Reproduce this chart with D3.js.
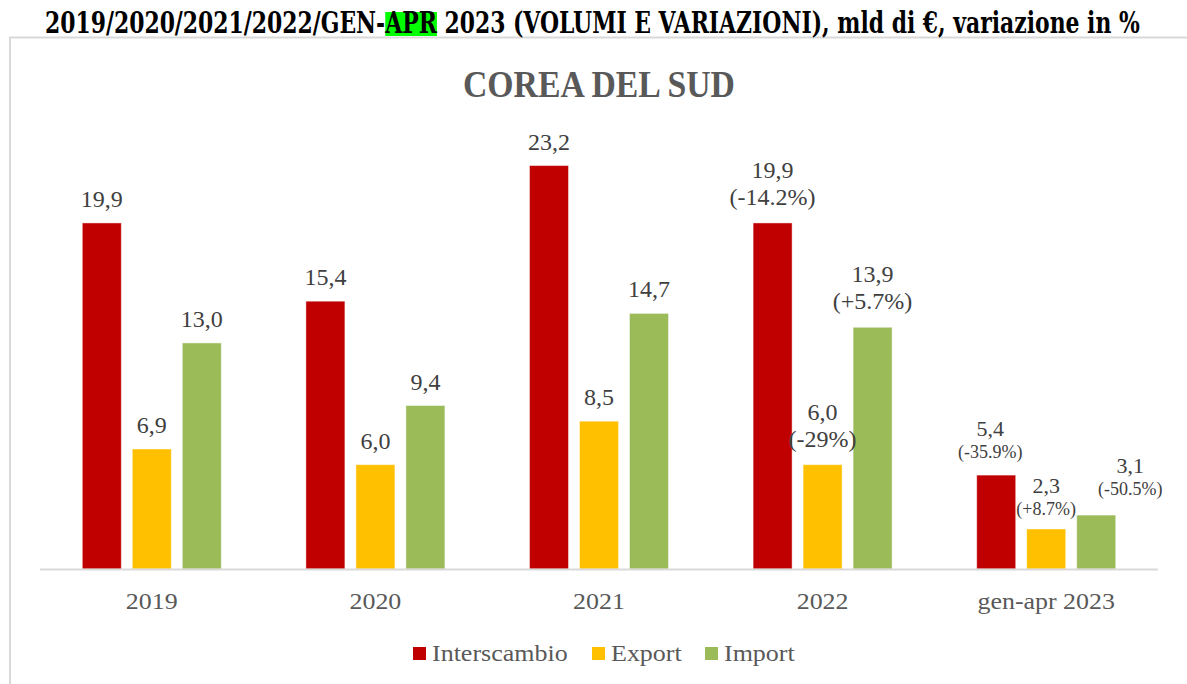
<!DOCTYPE html>
<html>
<head>
<meta charset="utf-8">
<script src="https://cdn.jsdelivr.net/npm/d3@7"></script>
<style>
  body { margin: 0; background: #fff; }
  svg { display: block; }
</style>
</head>
<body>
<div class="canvas"></div>
<script>
// data
const categories = ['2019', '2020', '2021', '2022', 'gen-apr 2023'];
const seriesNames = ['Interscambio', 'Export', 'Import'];
const interscambio = [19.9, 15.4, 23.2, 19.9, 5.4];
const exportVals = [6.9, 6.0, 8.5, 6.0, 2.3];
const importVals = [13.0, 9.4, 14.7, 13.9, 3.1];
const interscambioVar = [null, null, null, '(-14.2%)', '(-35.9%)'];
const exportVar = [null, null, null, '(-29%)', '(+8.7%)'];
const importVar = [null, null, null, '(+5.7%)', '(-50.5%)'];

const colors = ['#C00000', '#FFC000', '#9BBB59'];
const dims = { width: 1187, height: 684 };
const grey = '#595959';
const font = '"Liberation Serif", "Times New Roman", serif';

const svg = d3.select('.canvas')
    .append('svg')
    .attr('width', dims.width)
    .attr('height', dims.height);

// widen text a bit (reference font runs wider than Times)
const stretch = (sel, k) => sel.each(function () {
    const w = this.getComputedTextLength();
    d3.select(this).attr('textLength', w * k).attr('lengthAdjust', 'spacingAndGlyphs');
});

// frame
svg.append('path')
    .attr('d', 'M10,684 V37.5 H1187')
    .attr('fill', 'none')
    .attr('stroke', '#d9d9d9')
    .attr('stroke-width', 2);

// top title with highlighted APR
const tg = svg.append('g');
const title = tg.append('text')
    .attr('y', 33)
    .attr('font-family', '"DejaVu Serif Condensed", "DejaVu Serif", serif')
    .attr('font-weight', 'bold')
    .attr('font-size', 29)
    .attr('fill', '#000');
const p1 = '2019/2020/2021/2022/GEN-';
title.append('tspan').text(p1);
title.append('tspan').text('APR');
title.append('tspan').text(' 2023 (VOLUMI E VARIAZIONI), mld di €, variazione in %');
const tw = title.node().getComputedTextLength();
const sx = 1095 / tw;
const aprX = title.node().getSubStringLength(0, p1.length);
const aprW = title.node().getSubStringLength(p1.length, 3);
tg.insert('rect', 'text')
    .attr('x', aprX).attr('y', 12)
    .attr('width', aprW).attr('height', 24)
    .attr('fill', '#00FF00');
tg.attr('transform', `translate(45,0) scale(${sx},1)`);

// chart title
const ct = svg.append('g');
const ctText = ct.append('text')
    .attr('y', 97)
    .attr('font-family', font)
    .attr('font-weight', 'bold')
    .attr('font-size', 37)
    .attr('fill', grey)
    .text('COREA DEL SUD');
const cw = ctText.node().getComputedTextLength();
ct.attr('transform', `translate(463,0) scale(${272 / cw},1)`);

// scales
const x0 = d3.scaleBand()
    .domain(categories)
    .range([40, 1158]);

const x1 = d3.scaleBand()
    .domain(seriesNames)
    .range([0, 139])
    .paddingInner(0.22);

const y = d3.scaleLinear()
    .domain([0, 25])
    .range([569, 569 - 25 * 17.39]);

const rows = categories.map((c, i) => ({
    cat: c,
    vals: [
        { s: 0, v: interscambio[i], pct: interscambioVar[i] },
        { s: 1, v: exportVals[i], pct: exportVar[i] },
        { s: 2, v: importVals[i], pct: importVar[i] }
    ]
}));

const groups = svg.selectAll('g.cat')
    .data(rows)
    .enter()
    .append('g')
    .attr('class', 'cat')
    .attr('transform', d => `translate(${x0(d.cat) + x0.bandwidth() / 2 - 69.5},0)`);

groups.selectAll('rect')
    .data(d => d.vals)
    .enter()
    .append('rect')
    .attr('x', d => x1(seriesNames[d.s]))
    .attr('y', d => y(d.v))
    .attr('width', x1.bandwidth())
    .attr('height', d => y(0) - y(d.v))
    .attr('fill', d => colors[d.s])
    .attr('stroke', 'rgba(255,255,255,0.45)')
    .attr('stroke-width', 1);

// value labels
const fmt = v => v.toFixed(1).replace('.', ',');
const small = d => d.cat === 'gen-apr 2023';
// little nudges for the crowded last group
const nudge = { 0: [-6, 0], 1: [0, 3], 2: [34, -3] };

groups.each(function (row) {
    const g = d3.select(this);
    row.vals.forEach(d => {
        const cx = x1(seriesNames[d.s]) + x1.bandwidth() / 2;
        const top = y(d.v);
        let dx = 0, dy = 0;
        if (small(row)) { dx = nudge[d.s][0]; dy = nudge[d.s][1]; }
        const t = g.append('text')
            .attr('text-anchor', 'middle')
            .attr('font-family', font)
            .attr('fill', '#404040');
        if (d.pct) {
            const ls = small(row) ? 22 : 27;
            t.append('tspan')
                .attr('x', cx + dx)
                .attr('y', top - (small(row) ? 17 : 18) - ls + dy)
                .attr('font-size', small(row) ? 22 : 24)
                .text(fmt(d.v));
            t.append('tspan')
                .attr('x', cx + dx)
                .attr('y', top - (small(row) ? 17 : 18) + dy)
                .attr('font-size', small(row) ? 18 : 24)
                .text(d.pct);
        } else {
            t.attr('x', cx).attr('y', top - 16)
                .attr('font-size', 24)
                .text(fmt(d.v));
        }
    });
});

// x axis
svg.append('line')
    .attr('x1', 40).attr('x2', 1158)
    .attr('y1', 569.5).attr('y2', 569.5)
    .attr('stroke', '#d9d9d9')
    .attr('stroke-width', 2);

svg.selectAll('text.cat')
    .data(categories)
    .enter()
    .append('text')
    .attr('class', 'cat')
    .attr('x', d => x0(d) + x0.bandwidth() / 2)
    .attr('y', 609)
    .attr('text-anchor', 'middle')
    .attr('font-family', font)
    .attr('font-size', 24)
    .attr('fill', grey)
    .text(d => d)
    .call(stretch, 1.08);

// legend
const legX = [413, 592, 705];
const leg = svg.selectAll('g.leg')
    .data(seriesNames)
    .enter()
    .append('g')
    .attr('class', 'leg')
    .attr('transform', (d, i) => `translate(${legX[i]},647)`);

leg.append('rect')
    .attr('width', 13).attr('height', 13)
    .attr('fill', (d, i) => colors[i]);

leg.append('text')
    .attr('x', 19)
    .attr('y', 14)
    .attr('font-family', font)
    .attr('font-size', 23)
    .attr('fill', grey)
    .text(d => d)
    .call(stretch, 1.13);
</script>
</body>
</html>
